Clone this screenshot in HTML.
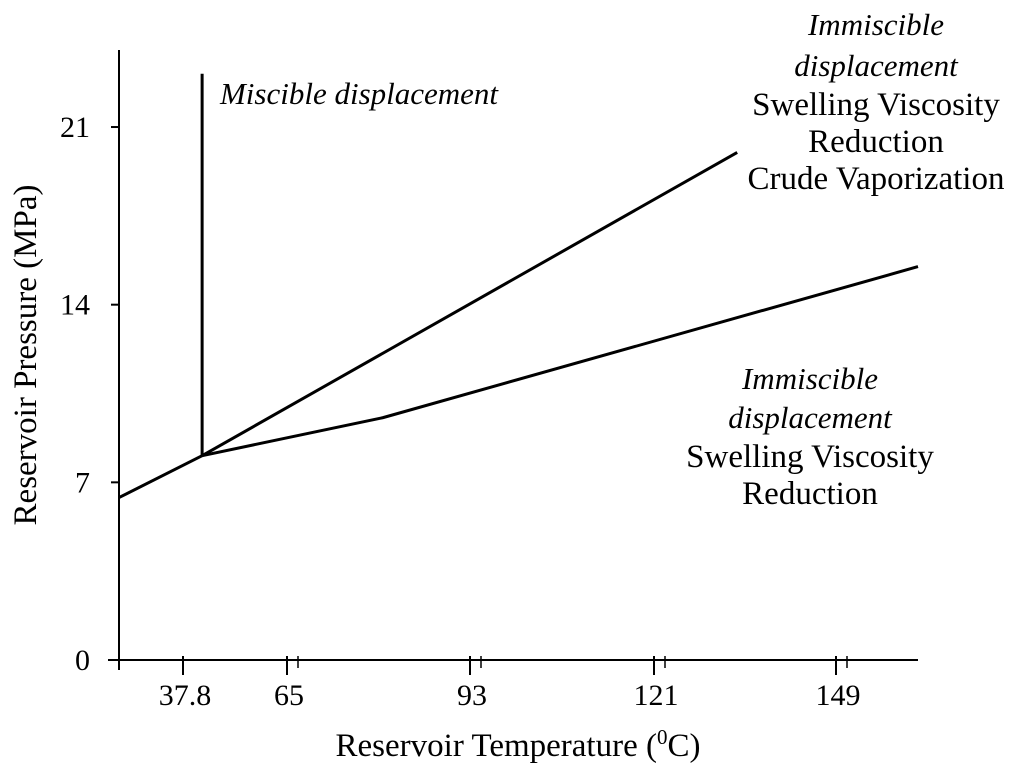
<!DOCTYPE html>
<html><head><meta charset="utf-8"><style>
body{margin:0;background:#fff;width:1024px;height:772px;overflow:hidden}
svg{font-family:"Liberation Serif",serif}
</style></head><body>
<svg id="c" width="1024" height="772"></svg>
<script>
const xTickVals=[37.8,65,93,121,149];
const xTickLabels=["37.8","65","93","121","149"];
const yTickVals=[0,7,14,21];
const yTickLabels=["0","7","14","21"];
const startX=[21.2,42.8];
const startY=[6.4,8.05];
const verticalX=[42.8,42.8];
const verticalY=[8.05,23.1];
const upperX=[42.8,133.8];
const upperY=[8.05,20.0];
const lowerX=[42.8,79.7,161.5];
const lowerY=[8.05,9.55,15.5];
const xDom=[21.2,37.8,65,93,121,149,161.5];
const xPx=[119,183,287,470,654,836,918];
function xs(v){for(let i=0;i<xDom.length-1;i++){if(v<=xDom[i+1]||i==xDom.length-2){return xPx[i]+(v-xDom[i])/(xDom[i+1]-xDom[i])*(xPx[i+1]-xPx[i]);}}}
function ys(v){return 660-v*25.38;}
const svg=document.getElementById('c');const NS='http://www.w3.org/2000/svg';
function mk(t,a){const e=document.createElementNS(NS,t);for(const k in a)e.setAttribute(k,a[k]);svg.appendChild(e);return e;}
let e;
e=mk('line',{x1:119,y1:50,x2:119,y2:662,stroke:'#000','stroke-width':2});


e=mk('line',{x1:108,y1:660,x2:918,y2:660,stroke:'#000','stroke-width':2});


e=mk('line',{x1:119,y1:656,x2:119,y2:670,stroke:'#000','stroke-width':2});


xTickVals.forEach((v,i)=>{const x=xs(v);
 e=mk('line',{x1:x,y1:656,x2:x,y2:675,stroke:'#000','stroke-width':2});
 
 
 if(i>0){e=mk('line',{x1:x+11,y1:656,x2:x+11,y2:668,stroke:'#000','stroke-width':1.5});
 
 }
 e=mk('text',{x:x+2,y:705,'font-size':30,'text-anchor':'middle'});e.textContent=xTickLabels[i];
 
 
});
yTickVals.forEach((v,i)=>{const y=ys(v);
 e=mk('line',{x1:111,y1:y,x2:119,y2:y,stroke:'#000','stroke-width':2});
 
 
 e=mk('text',{x:90,y:y+10,'font-size':30,'text-anchor':'end'});e.textContent=yTickLabels[i];
 
 
});
e=mk('text',{x:518,y:756,'font-size':33,'text-anchor':'middle'});
e.innerHTML='Reservoir Temperature (<tspan font-size="21" dy="-12">0</tspan><tspan dy="12">C)</tspan>';


e=mk('text',{x:0,y:0,'font-size':33,'text-anchor':'middle',transform:'translate(36,355) rotate(-90)'});
e.textContent='Reservoir Pressure (MPa)';


function line(X,Y,name){const p=X.map((v,i)=>xs(v)+','+ys(Y[i])).join(' ');
 const l=mk('polyline',{points:p,fill:'none',stroke:'#000','stroke-width':3});
 
 }
line(startX,startY,'initial-boundary-line');
line(verticalX,verticalY,'miscible-boundary-line');
line(upperX,upperY,'upper-immiscible-boundary-line');
line(lowerX,lowerY,'lower-immiscible-boundary-line');
function txt(x,y,s,it,name,fs){const t=mk('text',{x:x,y:y,'font-size':fs,'text-anchor':'middle','font-style':it?'italic':'normal'});t.textContent=s;
 
 }
txt(359,104,'Miscible displacement',true,'miscible-label',31);
txt(876,35,'Immiscible',true,'upper-region-label',31);
txt(876,76,'displacement',true,'upper-region-label',31);
txt(876,115,'Swelling Viscosity',false,'upper-region-label',33);
txt(876,152,'Reduction',false,'upper-region-label',33);
txt(876,189,'Crude Vaporization',false,'upper-region-label',33);
txt(810,389,'Immiscible',true,'lower-region-label',31);
txt(810,428,'displacement',true,'lower-region-label',31);
txt(810,467,'Swelling Viscosity',false,'lower-region-label',33);
txt(810,504,'Reduction',false,'lower-region-label',33);
</script>
</body></html>
